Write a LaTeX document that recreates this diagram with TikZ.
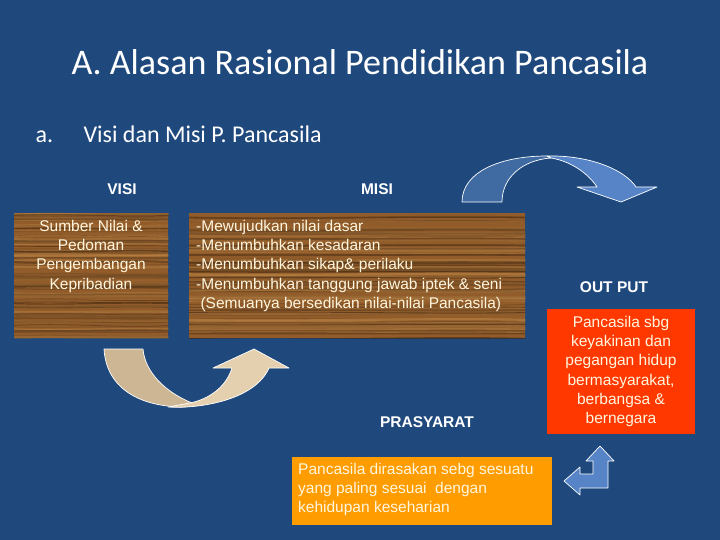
\documentclass[tikz,border=0pt]{standalone}
\usepackage{fontspec}
\setmainfont{Liberation Sans}
\newfontfamily\calfont{Carlito}
\usepackage{tikz}
\usetikzlibrary{positioning,calc}
\definecolor{slideblue}{RGB}{31,73,125}
\definecolor{woodmid}{RGB}{146,92,42}
\definecolor{wooddark}{RGB}{62,36,14}
\definecolor{woodlight}{RGB}{190,134,70}
\definecolor{creamtext}{RGB}{255,246,222}
\definecolor{outred}{RGB}{255,56,0}
\definecolor{preorange}{RGB}{255,156,0}
\definecolor{arrowdark}{RGB}{64,106,162}
\definecolor{arrowlight}{RGB}{86,132,198}
\definecolor{beigedark}{RGB}{204,182,148}
\definecolor{beigelight}{RGB}{228,208,174}
\tikzstyle{bigarrow} = [draw=white,line width=0.7pt,line join=round]

% wood grain inside a named box
\newcommand{\woodgrain}[1]{%
  \begin{scope}
    \clip (#1.north west) rectangle (#1.south east);
    \fill[woodmid] (#1.north west) rectangle (#1.south east);
    \foreach \k in {0,...,95} {
      \pgfmathsetmacro{\mixval}{int(100*rnd)}
      \pgfmathsetmacro{\lw}{0.4+1.8*rnd}
      \pgfmathsetmacro{\yy}{127*rnd}
      \pgfmathsetmacro{\dy}{3*rand}
      \draw[wooddark!\mixval!woodlight, line width=\lw pt, opacity=0.6]
        ($(#1.north west)+(0,\yy)$) .. controls ($(#1.north west)!0.35!(#1.north east)+(0,\yy+\dy)$)
        and ($(#1.north west)!0.7!(#1.north east)+(0,\yy-\dy)$) .. ($(#1.north east)+(0,\yy)$);
    }
  \end{scope}}

\begin{document}
\begin{tikzpicture}[x=1pt,y=-1pt,
  woodbox/.style={rectangle, inner sep=0pt, anchor=north west},
  boxtext/.style={text=creamtext, font=\fontsize{15.5}{19.2}\selectfont, inner sep=0pt},
  heading/.style={text=white, font=\fontsize{15.5}{18}\selectfont\bfseries, anchor=base},
  colorbox/.style={rectangle, inner sep=0pt, anchor=north west}]

  \pgfmathsetseed{11}
  \fill[slideblue] (0,0) rectangle (720,540);
  \useasboundingbox (0,0) rectangle (720,540);

  % TITLES

  \node[text=white, font=\calfont\fontsize{36}{40}\selectfont, anchor=base] (title) at (360,75) {A. Alasan Rasional Pendidikan Pancasila};
  \node[text=white, font=\calfont\fontsize{24}{28}\selectfont, anchor=base west] (item) at (32,143) {a.};
  \node[text=white, font=\calfont\fontsize{24}{28}\selectfont, anchor=base west] (subtitle) at (80,143) {Visi dan Misi P. Pancasila};

  \node[heading] (visititle) at (122,195) {VISI};
  \node[heading] (misititle) at (377,195) {MISI};

  % WOOD BOXES

  \node[woodbox, minimum width=154pt, minimum height=125pt] (visibox) at (14,213) {};
  \node[woodbox, minimum width=336pt, minimum height=125pt] (misibox) at (189,213) {};
  \woodgrain{visibox}
  \woodgrain{misibox}

  \node[boxtext, align=center, anchor=north] (visitext) at (91,220)
    {Sumber Nilai \&\\Pedoman\\Pengembangan\\Kepribadian};
  \node[boxtext, align=left, anchor=north west] (misitext) at (196,220)
    {-Mewujudkan nilai dasar\\-Menumbuhkan kesadaran\\-Menumbuhkan sikap\& perilaku\\-Menumbuhkan tanggung jawab iptek \& seni\\\ (Semuanya bersedikan nilai-nilai Pancasila)};

  % OUTPUT

  \node[heading] (outtitle) at (614,292) {OUT PUT};
  \node[colorbox, fill=outred, minimum width=148pt, minimum height=125pt] (outbox) at (547,309) {};
  \node[boxtext, align=center, anchor=north] (outtext) at (621,316)
    {Pancasila sbg\\keyakinan dan\\pegangan hidup\\bermasyarakat,\\berbangsa \&\\bernegara};

  % PRASYARAT

  \node[heading] (pretitle) at (427,427) {PRASYARAT};
  \node[colorbox, fill=preorange, minimum width=260pt, minimum height=68pt] (prebox) at (292,457) {};
  \node[boxtext, align=left, anchor=north west] (pretext) at (298,463)
    {Pancasila dirasakan sebg sesuatu\\yang paling sesuai\ \ dengan\\kehidupan keseharian};

  % ARROWS

  \draw[bigarrow, fill=arrowdark] (462,202) .. controls (462,172) and (500,156) .. (547,156)
    -- (551,158) .. controls (522,160) and (502,178) .. (502,202) -- cycle;
  \draw[bigarrow, fill=arrowlight] (547,156) .. controls (590,155) and (625,170) .. (636,187)
    -- (657,187) -- (621,202) -- (577,187) -- (597,187)
    .. controls (588,173) and (570,161) .. (551,158) -- cycle;

  \draw[bigarrow, fill=beigedark] (104,349) .. controls (106,385) and (135,407) .. (185,407)
    -- (192,403) .. controls (165,392) and (145,372) .. (143,349) -- cycle;
  \draw[bigarrow, fill=beigelight] (168,407) .. controls (200,409) and (255,400) .. (269,368)
    -- (289,368) -- (254,349) -- (213,368) -- (232,368)
    .. controls (225,390) and (205,400) .. (190,403) -- cycle;

  \draw[bigarrow, fill=arrowlight] (600,446) -- (614,461) -- (608,461) -- (608,488)
    -- (580,488) -- (580,495) -- (564,481) -- (580,467) -- (580,474) -- (593,474)
    -- (593,461) -- (586,461) -- cycle;

\end{tikzpicture}
\end{document}
